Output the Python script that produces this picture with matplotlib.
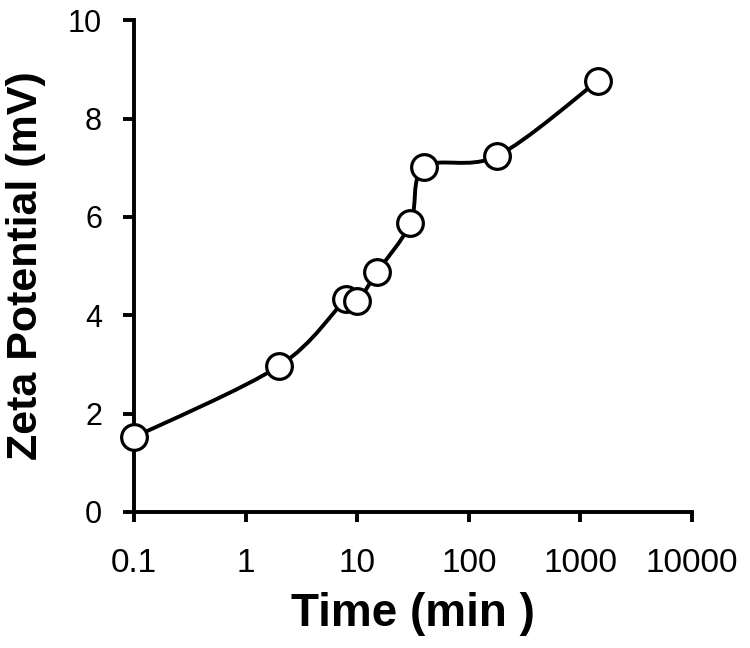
import numpy as np
import matplotlib.pyplot as plt
from matplotlib.path import Path
from matplotlib.patches import PathPatch

# data
time_min = [0.1, 2, 8, 10, 15, 30, 40, 180, 1440]
zeta_mv = [1.52, 2.97, 4.33, 4.28, 4.87, 5.87, 7.01, 7.24, 8.77]

x_ticks = [0.1, 1, 10, 100, 1000, 10000]
x_ticklabels = ["0.1", "1", "10", "100", "1000", "10000"]
y_ticks = [0, 2, 4, 6, 8, 10]

plt.rcParams["font.family"] = ["Liberation Sans", "DejaVu Sans"]

fig = plt.figure(figsize=(7.5, 6.48), dpi=100)
ax = fig.add_axes([0.1787, 0.2099, 0.744, 0.759])

ax.set_xscale("log")
ax.set_xlim(0.1, 10000)
ax.set_ylim(0, 10)


# Excel-style smoothed line: cardinal (Catmull-Rom) bezier through the points,
# computed in pixel-ish space (log x) so the shape follows the drawn aspect
def smooth_path(xs, ys, w_px=558.0, h_px=492.0):
    u = (np.log10(xs) + 1) / 5 * w_px
    v = np.asarray(ys) / 10 * h_px
    pts = np.column_stack([u, v])
    n = len(pts)
    verts = [pts[0]]
    codes = [Path.MOVETO]
    for i in range(n - 1):
        p0 = pts[max(i - 1, 0)]
        p1 = pts[i]
        p2 = pts[i + 1]
        p3 = pts[min(i + 2, n - 1)]
        c1 = p1 + (p2 - p0) / 6.0
        c2 = p2 - (p3 - p1) / 6.0
        verts += [c1, c2, p2]
        codes += [Path.CURVE4] * 3
    verts = np.array(verts)
    xd = 10 ** (verts[:, 0] / w_px * 5 - 1)
    yd = verts[:, 1] / h_px * 10
    return Path(np.column_stack([xd, yd]), codes)


ax.add_patch(PathPatch(smooth_path(time_min, zeta_mv), facecolor="none",
                       edgecolor="black", lw=2.8, zorder=2))
ax.plot(time_min, zeta_mv, ls="none", marker="o", ms=18.5, mfc="white",
        mec="black", mew=2.3, zorder=3, clip_on=False)

ax.set_xticks(x_ticks)
ax.set_xticklabels(x_ticklabels)
ax.xaxis.set_minor_locator(plt.NullLocator())
ax.set_yticks(y_ticks)

for side in ["top", "right"]:
    ax.spines[side].set_visible(False)
for side in ["left", "bottom"]:
    ax.spines[side].set_linewidth(2.8)

ax.tick_params(axis="x", direction="out", length=7, width=2.8, labelsize=24, pad=19)
ax.tick_params(axis="y", direction="out", length=8, width=2.8, labelsize=22, pad=15)

ax.set_xlabel("Time (min )", fontsize=33, fontweight="bold", labelpad=9)
ax.set_ylabel("Zeta Potential (mV)", fontsize=31, fontweight="bold", labelpad=16)

fig.savefig("out.png", dpi=100)
